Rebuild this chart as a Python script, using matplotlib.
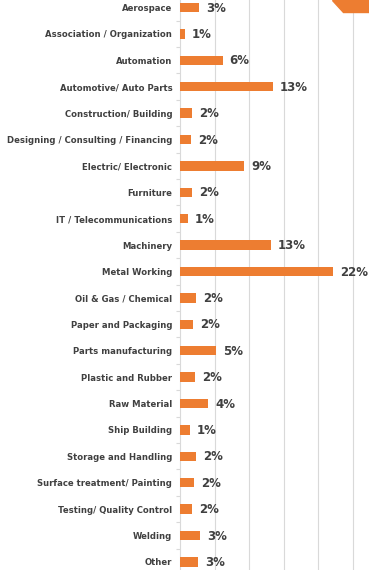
import matplotlib
matplotlib.use("Agg")
import matplotlib.pyplot as plt
import numpy as np
from matplotlib.patches import Polygon

# industries, top to bottom
industries = [
    "Aerospace", "Association / Organization", "Automation",
    "Automotive/ Auto Parts", "Construction/ Building",
    "Designing / Consulting / Financing", "Electric/ Electronic",
    "Furniture", "IT / Telecommunications", "Machinery", "Metal Working",
    "Oil & Gas / Chemical", "Paper and Packaging", "Parts manufacturing",
    "Plastic and Rubber", "Raw Material", "Ship Building",
    "Storage and Handling", "Surface treatment/ Painting",
    "Testing/ Quality Control", "Welding", "Other",
]
# bar lengths (percent)
shares = [2.75, 0.7, 6.2, 13.5, 1.75, 1.6, 9.3, 1.75, 1.15, 13.2, 22.2,
          2.3, 1.9, 5.2, 2.2, 4.1, 1.45, 2.3, 2.0, 1.75, 2.9, 2.6]
# printed labels
share_labels = ["3%", "1%", "6%", "13%", "2%", "2%", "9%", "2%", "1%", "13%",
                "22%", "2%", "2%", "5%", "2%", "4%", "1%", "2%", "2%", "2%",
                "3%", "3%"]

orange = "#ED7D31"
text_col = "#404040"
grid_col = "#D9D9D9"

W, H = 369, 570
fig = plt.figure(figsize=(W / 100, H / 100), dpi=100)

# axes placed in pixel terms: left edge at x=180, row pitch ~26.4 px
row = 26.4
top_px = 7.5 - row / 2
height_px = row * len(industries)
ax = fig.add_axes([180 / W, 1 - (top_px + height_px) / H,
                   1 - 180 / W, height_px / H])

y = np.arange(len(industries))
bars = ax.barh(y, shares, height=0.35, color=orange, zorder=3)

for b, lab in zip(bars, share_labels):
    ax.annotate(lab, (b.get_width(), b.get_y() + b.get_height() / 2),
                xytext=(5, -0.5), textcoords="offset points",
                ha="left", va="center", fontsize=8.5, fontweight="bold",
                color=text_col)

ax.set_ylim(len(industries) - 0.5, -0.5)
ax.set_xlim(0, 189 / 6.9)
ax.set_xticks([5, 10, 15, 20, 25])
ax.xaxis.grid(True, color=grid_col, linewidth=0.8, zorder=0)
ax.tick_params(axis="x", length=0, labelbottom=False)

ax.set_yticks(y)
ax.set_yticklabels(industries, fontsize=6.1, fontweight="bold", color=text_col)
ax.set_yticks(np.arange(len(industries) + 1) - 0.5, minor=True)
ax.tick_params(axis="y", which="major", length=0, pad=5.5)
ax.tick_params(axis="y", which="minor", length=3, color=grid_col, width=0.8)

for s in ["top", "right", "bottom"]:
    ax.spines[s].set_visible(False)
ax.spines["left"].set_color(grid_col)
ax.spines["left"].set_linewidth(0.8)

# orange tab in the top right corner
tab = Polygon([(332 / W, 1), (1, 1), (1, 1 - 12 / H), (343 / W, 1 - 12 / H)],
              closed=True, transform=fig.transFigure, color=orange, zorder=5)
fig.patches.append(tab)

fig.savefig("out.png", dpi=100)
